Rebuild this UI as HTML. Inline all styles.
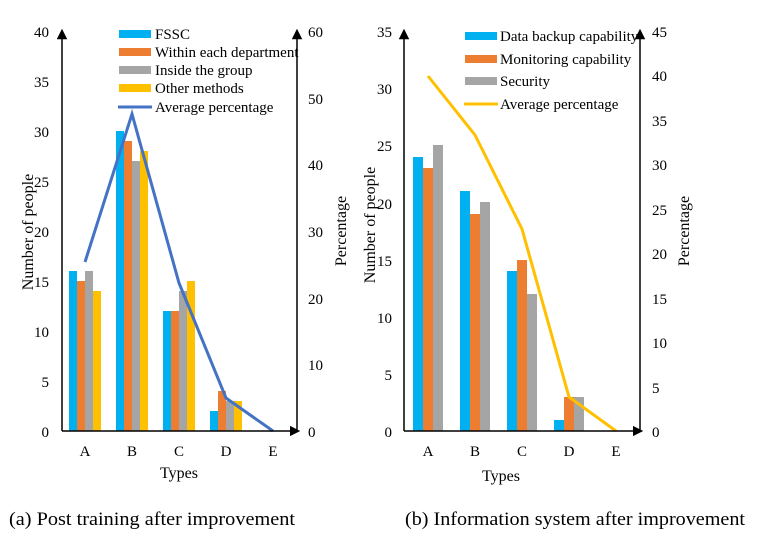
<!DOCTYPE html>
<html><head><meta charset="utf-8"><style>
html,body{margin:0;padding:0;background:#fff;}
svg{display:block;font-family:"Liberation Serif",serif;}
</style></head><body>
<svg width="757" height="541" viewBox="0 0 757 541" xmlns="http://www.w3.org/2000/svg">
<defs>
<marker id="ar" viewBox="0 0 10 10" refX="5" refY="5" markerWidth="7" markerHeight="7" orient="auto-start-reverse"><path d="M0,0 L10,5 L0,10 z" fill="#000"/></marker>
</defs>
<g font-size="15" fill="#000">
<!-- Chart 1 -->
<g>
<g>
<rect x="69" y="271" width="8" height="160" fill="#00b0f0"/><rect x="77" y="281" width="8" height="150" fill="#ed7d31"/><rect x="85" y="271" width="8" height="160" fill="#a5a5a5"/><rect x="93" y="291" width="8" height="140" fill="#ffc000"/>
<rect x="116" y="131" width="8" height="300" fill="#00b0f0"/><rect x="124" y="141" width="8" height="290" fill="#ed7d31"/><rect x="132" y="161" width="8" height="270" fill="#a5a5a5"/><rect x="140" y="151" width="8" height="280" fill="#ffc000"/>
<rect x="163" y="311" width="8" height="120" fill="#00b0f0"/><rect x="171" y="311" width="8" height="120" fill="#ed7d31"/><rect x="179" y="291" width="8" height="140" fill="#a5a5a5"/><rect x="187" y="281" width="8" height="150" fill="#ffc000"/>
<rect x="210" y="411" width="8" height="20" fill="#00b0f0"/><rect x="218" y="391" width="8" height="40" fill="#ed7d31"/><rect x="226" y="401" width="8" height="30" fill="#a5a5a5"/><rect x="234" y="401" width="8" height="30" fill="#ffc000"/>
</g>
<polyline points="85,262 132,114 179,283 226,398 273,431" fill="none" stroke="#4472c4" stroke-width="3"/>
<line x1="62" y1="431" x2="62" y2="34" stroke="#000" stroke-width="1.5" marker-end="url(#ar)"/>
<line x1="297" y1="431" x2="297" y2="34" stroke="#000" stroke-width="1.5" marker-end="url(#ar)"/>
<line x1="62" y1="431" x2="295" y2="431" stroke="#000" stroke-width="1.5" marker-end="url(#ar)"/>
<g text-anchor="end">
<text x="49" y="437">0</text><text x="49" y="387">5</text><text x="49" y="337">10</text><text x="49" y="287">15</text><text x="49" y="237">20</text><text x="49" y="187">25</text><text x="49" y="137">30</text><text x="49" y="87">35</text><text x="49" y="37">40</text>
</g>
<g>
<text x="308" y="437">0</text><text x="308" y="370">10</text><text x="308" y="304">20</text><text x="308" y="237">30</text><text x="308" y="170">40</text><text x="308" y="104">50</text><text x="308" y="37">60</text>
</g>
<g text-anchor="middle">
<text x="85" y="456">A</text><text x="132" y="456">B</text><text x="179" y="456">C</text><text x="226" y="456">D</text><text x="273" y="456">E</text>
<text x="179" y="478" font-size="16">Types</text>
<text transform="translate(33,232) rotate(-90)" font-size="16">Number of people</text>
<text transform="translate(346,231) rotate(-90)" font-size="16">Percentage</text>
</g>
<rect x="119" y="30" width="32" height="8" fill="#00b0f0"/><text x="155" y="39">FSSC</text>
<rect x="119" y="48" width="32" height="8" fill="#ed7d31"/><text x="155" y="57">Within each department</text>
<rect x="119" y="66" width="32" height="8" fill="#a5a5a5"/><text x="155" y="75">Inside the group</text>
<rect x="119" y="84" width="32" height="8" fill="#ffc000"/><text x="155" y="93">Other methods</text>
<line x1="118" y1="107" x2="152" y2="107" stroke="#4472c4" stroke-width="3"/><text x="155" y="112">Average percentage</text>
</g>
<!-- Chart 2 -->
<g>
<rect x="413" y="157" width="10" height="274" fill="#00b0f0"/><rect x="423" y="168" width="10" height="263" fill="#ed7d31"/><rect x="433" y="145" width="10" height="286" fill="#a5a5a5"/>
<rect x="460" y="191" width="10" height="240" fill="#00b0f0"/><rect x="470" y="214" width="10" height="217" fill="#ed7d31"/><rect x="480" y="202" width="10" height="229" fill="#a5a5a5"/>
<rect x="507" y="271" width="10" height="160" fill="#00b0f0"/><rect x="517" y="260" width="10" height="171" fill="#ed7d31"/><rect x="527" y="294" width="10" height="137" fill="#a5a5a5"/>
<rect x="554" y="420" width="10" height="11" fill="#00b0f0"/><rect x="564" y="397" width="10" height="34" fill="#ed7d31"/><rect x="574" y="397" width="10" height="34" fill="#a5a5a5"/>
<polyline points="428,76 475,135 522,229 569,397 616,431" fill="none" stroke="#ffc000" stroke-width="3"/>
<line x1="404" y1="431" x2="404" y2="34" stroke="#000" stroke-width="1.5" marker-end="url(#ar)"/>
<line x1="640" y1="431" x2="640" y2="34" stroke="#000" stroke-width="1.5" marker-end="url(#ar)"/>
<line x1="404" y1="431" x2="638" y2="431" stroke="#000" stroke-width="1.5" marker-end="url(#ar)"/>
<g text-anchor="end">
<text x="392" y="437">0</text><text x="392" y="380">5</text><text x="392" y="323">10</text><text x="392" y="266">15</text><text x="392" y="209">20</text><text x="392" y="151">25</text><text x="392" y="94">30</text><text x="392" y="37">35</text>
</g>
<g>
<text x="652" y="437">0</text><text x="652" y="393">5</text><text x="652" y="348">10</text><text x="652" y="304">15</text><text x="652" y="259">20</text><text x="652" y="215">25</text><text x="652" y="170">30</text><text x="652" y="126">35</text><text x="652" y="81">40</text><text x="652" y="37">45</text>
</g>
<g text-anchor="middle">
<text x="428" y="456">A</text><text x="475" y="456">B</text><text x="522" y="456">C</text><text x="569" y="456">D</text><text x="616" y="456">E</text>
<text x="501" y="481" font-size="16">Types</text>
<text transform="translate(375,225) rotate(-90)" font-size="16">Number of people</text>
<text transform="translate(689,231) rotate(-90)" font-size="16">Percentage</text>
</g>
<rect x="465" y="32" width="32" height="8" fill="#00b0f0"/><text x="500" y="41">Data backup capability</text>
<rect x="465" y="55" width="32" height="8" fill="#ed7d31"/><text x="500" y="64">Monitoring capability</text>
<rect x="465" y="77" width="32" height="8" fill="#a5a5a5"/><text x="500" y="86">Security</text>
<line x1="464" y1="104" x2="498" y2="104" stroke="#ffc000" stroke-width="3"/><text x="500" y="109">Average percentage</text>
</g>
<text x="9" y="525" font-size="19" textLength="286" lengthAdjust="spacingAndGlyphs">(a) Post training after improvement</text>
<text x="405" y="525" font-size="19" textLength="340" lengthAdjust="spacingAndGlyphs">(b) Information system after improvement</text>
</g>
</svg>
</body></html>
